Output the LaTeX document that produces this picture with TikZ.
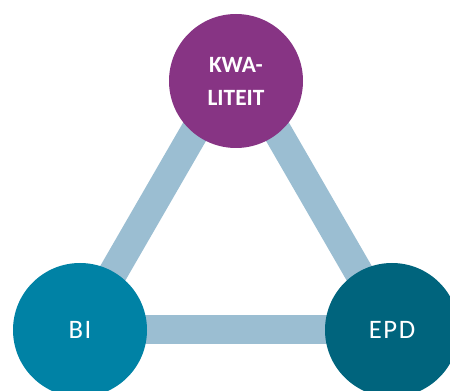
\documentclass[tikz,border=0pt]{standalone}
\usepackage{fontspec}
\setmainfont{Carlito}
\usepackage{tikz}
\usetikzlibrary{backgrounds}
\usetikzlibrary{calc}

\definecolor{kwapaars}{RGB}{135,52,132}
\definecolor{biblauw}{RGB}{0,130,165}
\definecolor{epdblauw}{RGB}{0,100,125}
\definecolor{balkblauw}{RGB}{155,190,210}

\tikzset{
  bol/.style={circle,inner sep=0pt,minimum size=100.5pt,text=white,
    font=\fontsize{20}{24}\selectfont\addfontfeature{LetterSpace=6}},
  balk/.style={line width=21.75pt,color=balkblauw,line cap=butt},
}

\begin{document}
\begin{tikzpicture}[x=0.75pt,y=-0.75pt]

          \useasboundingbox (0,0) rectangle (450,391); %画面
          \clip (0,0) rectangle (450,391); %はみ出しを切る
          \node[bol,fill=kwapaars,align=center,
            font=\fontsize{17.5}{24.75}\selectfont\bfseries] (kwa) at (236,81) {KWA-\\LITEIT}; %上
          \node[bol,fill=biblauw] (bi) at (80,330) {BI}; %左下
          \node[bol,fill=epdblauw] (epd) at (392,330) {EPD}; %右下
          \coordinate (top) at ($(kwa.center)+(0,-21)$); %三角形の頂点
          \begin{scope}[on background layer]
            \draw[balk] (top)--(bi.center); %左辺
            \draw[balk] (bi.center)--(epd.center); %底辺
            \draw[balk] (epd.center)--(top); %右辺
          \end{scope}

        \end{tikzpicture}
\end{document}
